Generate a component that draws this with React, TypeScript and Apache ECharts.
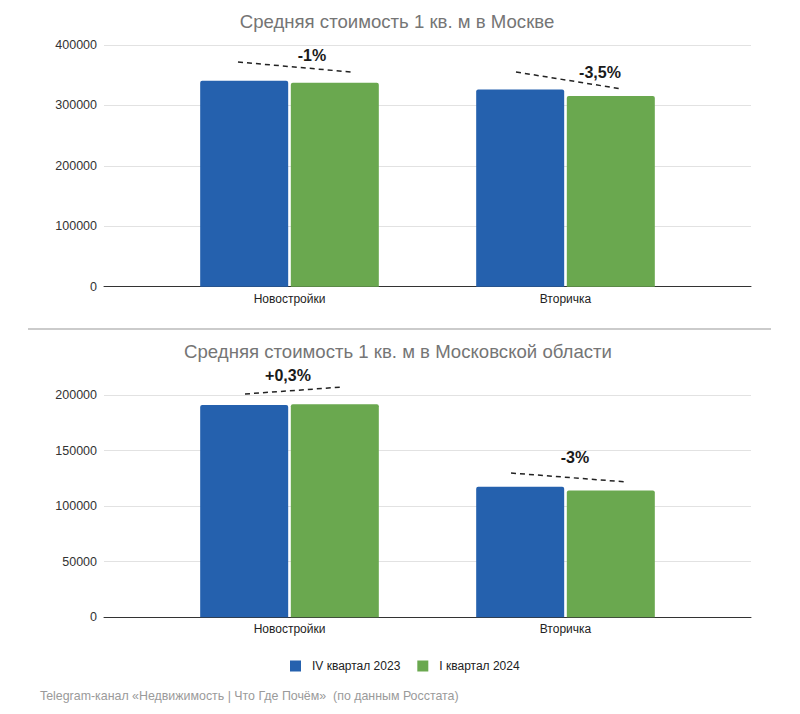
import React, { useEffect, useRef } from "react";
import * as echarts from "echarts";

const categories = ["Новостройки", "Вторичка"];
const seriesNames = ["IV квартал 2023", "I квартал 2024"];
const moscowQ4 = [341000, 326500];
const moscowQ1 = [337600, 315800];
const regionQ4 = [191000, 117500];
const regionQ1 = [191600, 114000];
const moscowTicks = { min: 0, max: 400000, interval: 100000 };
const regionTicks = { min: 0, max: 200000, interval: 50000 };
const titles = [
  "Средняя стоимость 1 кв. м в Москве",
  "Средняя стоимость 1 кв. м в Московской области",
];
const changes = ["-1%", "-3,5%", "+0,3%", "-3%"];
const footer = "Telegram-канал «Недвижимость | Что Где Почём»  (по данным Росстата)";

const BLUE = "#2561ae";
const GREEN = "#6aa84f";
const FONT = "Liberation Sans, Arial, sans-serif";

export default function App() {
  const ref = useRef<HTMLDivElement>(null);
  useEffect(() => {
    if (!ref.current) return;
    const chart = echarts.init(ref.current, null, { renderer: "svg" });

    const wideGrid = (top: number, bottom: number) => ({ left: 104, right: 49, top, bottom });
    const narrowGrid = (top: number, bottom: number) => ({ left: 151.5, right: 96.5, top, bottom });

    const wideX = (gridIndex: number) => ({
      type: "category",
      gridIndex,
      data: [""],
      axisLine: { show: true, lineStyle: { color: "#333", width: 1 } },
      axisTick: { show: false },
      axisLabel: { show: false },
    });
    const narrowX = (gridIndex: number) => ({
      type: "category",
      gridIndex,
      data: categories,
      axisLine: { show: false },
      axisTick: { show: false },
      axisLabel: { margin: 6, fontSize: 12, color: "#222", fontFamily: FONT },
    });
    const wideY = (gridIndex: number, t: any) => ({
      type: "value",
      gridIndex,
      min: t.min,
      max: t.max,
      interval: t.interval,
      axisLine: { show: false },
      axisTick: { show: false },
      axisLabel: {
        margin: 7,
        fontSize: 12.5,
        color: "#333",
        fontFamily: FONT,
        formatter: (v: number) => String(v),
      },
      splitLine: { lineStyle: { color: "#e2e2e2", width: 1 } },
    });
    const narrowY = (gridIndex: number, t: any) => ({
      type: "value",
      gridIndex,
      min: t.min,
      max: t.max,
      show: false,
      splitLine: { show: false },
    });

    const bar = (name: string, data: number[], axis: number, color: string) => ({
      type: "bar",
      name,
      data,
      xAxisIndex: axis,
      yAxisIndex: axis,
      barWidth: 88,
      barGap: "3%",
      itemStyle: { color, borderRadius: [2, 2, 0, 0] },
    });

    const dash = (x1: number, y1: number, x2: number, y2: number) => ({
      type: "line",
      shape: { x1, y1, x2, y2 },
      style: { stroke: "#222", lineWidth: 1.5, lineDash: [5, 4] },
      z: 100,
    });
    const pct = (text: string, x: number, y: number) => ({
      type: "text",
      x,
      y,
      style: {
        text,
        fill: "#1a1a1a",
        font: `bold 16px ${FONT}`,
        textAlign: "center",
        textVerticalAlign: "middle",
      },
      z: 100,
    });
    const titleText = (text: string, x: number, y: number) => ({
      type: "text",
      x,
      y,
      style: {
        text,
        fill: "#757575",
        font: `18.6px ${FONT}`,
        textAlign: "center",
        textVerticalAlign: "middle",
      },
    });

    chart.setOption({
      animation: false,
      backgroundColor: "#ffffff",
      grid: [
        wideGrid(45, 427.3),
        narrowGrid(45, 427.3),
        wideGrid(395, 96.7),
        narrowGrid(395, 96.7),
      ],
      xAxis: [wideX(0), narrowX(1), wideX(2), narrowX(3)],
      yAxis: [
        wideY(0, moscowTicks),
        narrowY(1, moscowTicks),
        wideY(2, regionTicks),
        narrowY(3, regionTicks),
      ],
      legend: {
        data: seriesNames.map((n) => ({ name: n, icon: "rect" })),
        left: 285,
        top: 655,
        itemWidth: 11,
        itemHeight: 11,
        itemGap: 17,
        textStyle: { fontSize: 12, color: "#222", fontFamily: FONT, padding: [0, 0, 0, 6] },
      },
      series: [
        bar(seriesNames[0], moscowQ4, 1, BLUE),
        bar(seriesNames[1], moscowQ1, 1, GREEN),
        bar(seriesNames[0], regionQ4, 3, BLUE),
        bar(seriesNames[1], regionQ1, 3, GREEN),
      ],
      graphic: [
        titleText(titles[0], 397, 21),
        titleText(titles[1], 398, 351),
        {
          type: "line",
          shape: { x1: 28, y1: 329, x2: 771, y2: 329 },
          style: { stroke: "#cbcbcb", lineWidth: 2 },
        },
        dash(238, 62, 351, 72),
        pct(changes[0], 312, 55),
        dash(516, 72, 622, 89),
        pct(changes[1], 600, 72),
        dash(245, 394, 343, 387),
        pct(changes[2], 288, 375),
        dash(511, 473, 627, 482),
        pct(changes[3], 575, 457),
        {
          type: "text",
          x: 40,
          y: 696,
          style: {
            text: footer,
            fill: "#9a9a9a",
            font: `12.4px ${FONT}`,
            textAlign: "left",
            textVerticalAlign: "middle",
          },
        },
      ],
    });
    return () => chart.dispose();
  }, []);
  return (
    <div
      ref={ref}
      style={{ position: "fixed", left: 0, top: 0, width: 800, height: 714, background: "#fff" }}
    />
  );
}
